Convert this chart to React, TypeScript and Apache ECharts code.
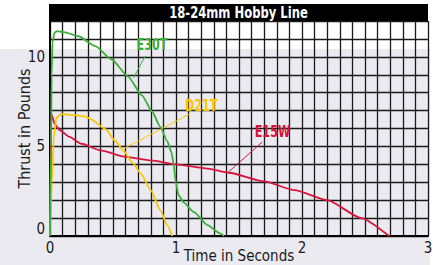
import React, { useEffect, useRef } from "react";
import * as echarts from "echarts";

const FONT = "'Liberation Sans Narrow', 'DejaVu Sans Condensed', sans-serif";

const chartTitle = "18-24mm Hobby Line";
const xAxisName = "Time in Seconds";
const yAxisName = "Thrust in Pounds";
const xTickLabels = ["0", "1", "2", "3"];
const yTickLabels = ["0", "5", "10"];

const e30tTime = [0, 0.008, 0.013, 0.02, 0.035, 0.055, 0.12, 0.225, 0.36, 0.49, 0.62, 0.73, 0.81, 0.875, 0.93, 0.965, 0.982, 0.997, 1.02, 1.06, 1.14, 1.25, 1.35, 1.38];
const e30tThrust = [0, 5, 9, 10.8, 11.35, 11.43, 11.37, 11.15, 10.6, 9.85, 8.9, 7.85, 6.95, 6.1, 5.3, 4.65, 4.0, 3.05, 2.28, 1.88, 1.35, 0.61, 0.15, 0];

const d21tTime = [0, 0.015, 0.03, 0.05, 0.09, 0.2, 0.28, 0.33, 0.44, 0.52, 0.58, 0.66, 0.72, 0.8, 0.875, 0.93, 0.97];
const d21tThrust = [0, 3, 5.5, 6.6, 6.8, 6.75, 6.67, 6.5, 5.96, 5.3, 4.78, 4.05, 3.5, 2.56, 1.44, 0.61, 0];

const e15wTime = [0, 0.01, 0.04, 0.08, 0.15, 0.25, 0.4, 0.6, 0.8, 1.0, 1.25, 1.42, 1.7, 1.94, 2.2, 2.47, 2.69];
const e15wThrust = [0, 6.8, 6.2, 5.9, 5.55, 5.15, 4.78, 4.42, 4.22, 4.0, 3.76, 3.53, 3.05, 2.56, 2.0, 1.0, 0];

// callout label positions and leader lines (data coordinates)
const e30tLabel = [0.81, 10.68];
const e30tLeader = [[0.663, 8.83], [0.756, 10.04]];
const d21tLabel = [1.2, 7.28];
const d21tLeader = [[0.589, 4.89], [1.114, 6.83]];
const e15wLabel = [1.766, 5.83];
const e15wLeader = [[1.416, 3.57], [1.684, 5.24]];

const GREEN = "#3aaf3a";
const YELLOW = "#f7c800";
const RED = "#d8143c";

function pairs(xs: number[], ys: number[]) {
  return xs.map((x, i) => [x, ys[i]]);
}

function makeSeries(name: string, xs: number[], ys: number[], color: string, leader: number[][]) {
  return {
    name,
    type: "line",
    data: pairs(xs, ys),
    showSymbol: false,
    smooth: 0.2,
    smoothMonotone: "x",
    lineStyle: { color, width: 1.8 },
    z: 5,
    markLine: {
      silent: true,
      symbol: ["none", "none"],
      label: { show: false },
      lineStyle: { color, width: 1, type: "solid" },
      data: [[{ coord: leader[0] }, { coord: leader[1] }]],
    },
  };
}

const isTick = (v: number, labels: string[]) => {
  const r = Math.round(v);
  return Math.abs(v - r) < 1e-6 && labels.includes(String(r));
};

export default function App() {
  const ref = useRef<HTMLDivElement>(null);
  useEffect(() => {
    if (!ref.current) return;
    const chart = echarts.init(ref.current, undefined, { renderer: "svg" });
    const titleGraphics = [
      {
        id: "titleBar",
        type: "rect",
        left: 49,
        top: 4,
        shape: { width: 379, height: 17 },
        style: { fill: "#000" },
        z: 10,
      },
      {
        id: "titleText",
        type: "text",
        x: 238.5,
        y: 13,
        scaleX: 0.86,
        style: {
          text: chartTitle,
          fill: "#fff",
          fontFamily: FONT,
          fontWeight: "bold",
          fontSize: 15,
          align: "center",
          verticalAlign: "middle",
        },
        z: 11,
      },
    ];
    chart.setOption({
      animation: false,
      backgroundColor: "transparent",
      grid: { left: 50, right: 5, top: 21, bottom: 29, containLabel: false, outerBoundsMode: "none" },
      xAxis: {
        type: "value",
        min: 0,
        max: 3,
        interval: 0.1,
        name: xAxisName,
        nameLocation: "middle",
        nameGap: 12,
        nameMoveOverlap: false,
        nameTextStyle: { fontFamily: FONT, fontSize: 15, lineHeight: 15, color: "#1a1a1a", verticalAlign: "top" },
        axisLine: { show: true, onZero: false, lineStyle: { color: "#000", width: 2 } },
        axisTick: { show: false },
        axisLabel: {
          fontFamily: FONT,
          fontSize: 15,
          color: "#1a1a1a",
          margin: 4,
          showMinLabel: true,
          showMaxLabel: true,
          formatter: (v: number) => (isTick(v, xTickLabels) ? String(Math.round(v)) : ""),
        },
        splitLine: { show: true, lineStyle: { color: "#1a1a1a", width: 1.3 } },
      },
      yAxis: {
        type: "value",
        min: 0,
        max: 12,
        interval: 1,
        name: yAxisName,
        nameLocation: "middle",
        nameRotate: 90,
        nameGap: 18,
        nameMoveOverlap: false,
        nameTextStyle: { fontFamily: FONT, fontSize: 16, color: "#1a1a1a" },
        axisLine: { show: true, onZero: false, lineStyle: { color: "#000", width: 2 } },
        axisTick: { show: false },
        axisLabel: {
          fontFamily: FONT,
          fontSize: 15,
          color: "#1a1a1a",
          margin: 5,
          verticalAlignMinLabel: "bottom",
          formatter: (v: number) => (isTick(v, yTickLabels) ? String(Math.round(v)) : ""),
        },
        splitLine: { show: true, lineStyle: { color: "#1a1a1a", width: 1.3 } },
      },
      graphic: titleGraphics,
      series: [
        makeSeries("E15W", e15wTime, e15wThrust, RED, e15wLeader),
        makeSeries("D21T", d21tTime, d21tThrust, YELLOW, d21tLeader),
        makeSeries("E30T", e30tTime, e30tThrust, GREEN, e30tLeader),
      ],
    });
    const labels: [string, number[], string][] = [
      ["E30T", e30tLabel, GREEN],
      ["D21T", d21tLabel, YELLOW],
      ["E15W", e15wLabel, RED],
    ];
    const labelGraphics = labels.map(([text, coord, color]) => {
      const p = chart.convertToPixel({ gridIndex: 0 }, coord) as number[];
      return {
        id: "lbl-" + text,
        type: "text",
        x: p[0],
        y: p[1],
        scaleX: 0.78,
        style: {
          text,
          fill: color,
          fontFamily: FONT,
          fontWeight: "bold",
          fontSize: 16,
          align: "center",
          verticalAlign: "middle",
        },
        z: 12,
      };
    });
    chart.setOption({ graphic: [...titleGraphics, ...labelGraphics] });
    return () => chart.dispose();
  }, []);

  return (
    <div style={{ position: "fixed", left: 0, top: 0, width: 433, height: 265, background: "#fff" }}>
      <div style={{ position: "absolute", left: 0, top: 49, width: 430, height: 216, background: "#ebeaf0" }} />
      <div ref={ref} style={{ position: "absolute", left: 0, top: 0, width: 433, height: 265 }} />
    </div>
  );
}
